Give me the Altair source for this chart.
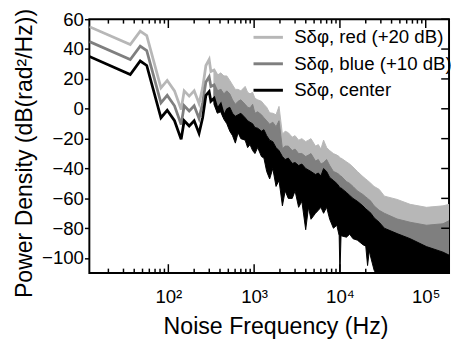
import altair as alt
import pandas as pd

FONT = "Liberation Sans"

SERIES = ["Sδφ, red (+20 dB)", "Sδφ, blue (+10 dB)", "Sδφ, center"]
COLORS = ["#b7b7b7", "#7f7f7f", "#000000"]

# low-frequency (clean) part of the traces
LINE_F = [12, 36, 47, 56, 82, 97, 118, 141, 153, 175, 200, 228, 251, 274, 299, 313, 341, 373, 407, 444]
RED_LINE = [55, 43, 52, 49, 14, 19, 12, -0.5, 12, 8.5, 12, 3.5, 14, 29, 33, 25, 26, 22, 23, 21]
BLUE_LINE = [45, 33, 42, 39, 4, 9, 2, -10.5, 2, -1.5, 2, -6.5, 4, 18, 21.5, 15, 16, 11, 12, 8]
CENTER_LINE = [35, 23, 32, 29, -6, -1, -8, -20.5, -8, -11.5, -8, -16.5, -6, 9, 11.5, 5, 7, -0.5, 2.7, -5]

# noisy part of the traces: upper / lower envelopes
BAND_F = [340, 373, 407, 444, 480, 520, 560, 604, 650, 700, 786, 840, 895, 960, 1022, 1100, 1218, 1300,
          1400, 1517, 1650, 1800, 1950, 2136, 2300, 2500, 2780, 3000, 3300, 3600, 3990, 4300, 4600, 5190,
          5600, 6000, 6450, 7000, 7600, 8400, 9200, 9800, 10000, 10300, 11900, 13000, 14200, 16000, 18500,
          20000, 21000, 22000, 23000, 25000, 28700, 33000, 46400, 65900, 102000, 159000, 187000]
RED_TOP = [26, 22, 24, 22, 22, 19, 16, 13, 13, 12, 15, 11, 10, 11, 7, 6, 5, 3,
           1, -2.7, -3, -4, 1.6, -17, -15, -16, -19, -18, -21, -20, -22, -21, -20, -25,
           -24, -27, -21, -26, -28, -30, -31, -32, -33, -33, -35.5, -37, -39, -42, -45.4,
           -47, -48, -49, -50, -52, -54, -58.5, -60.7, -64, -66, -65, -64]
BLUE_TOP = [16, 12, 13, 10, 12, 10, 6, 3, 5, 6, 3, 1, 0.5, 3, -3, -2, -4, -6,
            -8, -10.4, -9, -12, -8, -26.8, -25, -25, -28, -27, -30, -30, -32, -31, -30, -35,
            -34, -37, -36, -34, -38, -42, -43, -44, -45, -45, -48.7, -50, -52, -55, -57.4,
            -59, -60, -61, -62, -65, -68, -70, -73.8, -76, -78, -77, -75]
CENTER_TOP = [7, 0, 3, -4, 0, 1, -3, -5, -4, -3, -6, -8, -9, -10, -12.6, -13, -15, -14,
              -18, -21, -22, -26, -28, -32, -34, -33, -36.6, -36, -38, -37, -40, -41, -42, -44,
              -43, -45, -40, -42, -46, -48, -50, -52, -53, -53, -56, -58, -60, -62, -65,
              -67, -68, -69, -70, -73, -76, -80, -83.6, -87, -92.3, -96, -98]
CENTER_BOTTOM = [3, -3, -2, -7, -10, -15, -18, -23, -16, -20, -21, -26, -24, -28, -30, -26, -32, -33,
                 -42, -47, -40, -52, -48, -65, -55, -60, -60, -55, -66, -62, -81, -66, -74, -70,
                 -68, -66, -70, -66, -74, -80, -78, -85, -111, -85, -86, -84, -87, -88, -91,
                 -92, -105, -95, -100, -108, -115, -115, -115, -115, -115, -115, -115]

X_DOMAIN = [12, 187000]
Y_DOMAIN = [-110, 60]
X_DECADES = [100, 1000, 10000, 100000]
X_DECADE_LABELS = ["10²", "10³", "10⁴", "10⁵"]
X_MINOR = [20, 30, 40, 50, 60, 70, 80, 90,
           200, 300, 400, 500, 600, 700, 800, 900,
           2000, 3000, 4000, 5000, 6000, 7000, 8000, 9000,
           20000, 30000, 40000, 50000, 60000, 70000, 80000, 90000]
Y_TICKS = [-100, -80, -60, -40, -20, 0, 20, 40, 60]

W, H = 367, 259
MAJOR_LEN, MINOR_LEN, RIGHT_LEN = 9, 4.5, 8

label_expr = ""
for v, lab in zip(X_DECADES, X_DECADE_LABELS):
    label_expr += f"datum.value == {v} ? '{lab}' : "
label_expr += "''"

xscale = alt.Scale(type="log", domain=X_DOMAIN, nice=False)
yscale = alt.Scale(domain=Y_DOMAIN, nice=False, zero=False)

ax_x_main = alt.Axis(orient="bottom", values=X_DECADES, labelExpr=label_expr, ticks=False, tickSize=0,
                     domain=False, grid=False, labelFont=FONT, labelFontSize=19, labelPadding=15,
                     labelColor="black", labelFlush=False,
                     title="Noise Frequency (Hz)", titleFont=FONT, titleFontSize=23.6,
                     titleFontWeight="normal", titleColor="black",
                     titleX=190, titleY=62, titleBaseline="alphabetic")
ax_y_main = alt.Axis(orient="left", values=Y_TICKS, tickSize=5, tickWidth=1.5, tickColor="black",
                     labelPadding=1, labelFont=FONT, labelFontSize=19, labelColor="black",
                     labelFlush=False, domain=False, grid=False,
                     title="Power Density (dB(rad²/Hz))", titleFont=FONT, titleFontSize=23.5,
                     titleFontWeight="normal", titleColor="black",
                     titleX=-59.5, titleY=136.5, titleBaseline="alphabetic")

color_scale = alt.Scale(domain=SERIES, range=COLORS)
legend = alt.Legend(orient="none", legendX=166, legendY=2, title=None, symbolType="stroke",
                    symbolSize=900, symbolStrokeWidth=3, labelFont=FONT, labelFontSize=19,
                    labelColor="black", labelOffset=10, labelLimit=400, rowPadding=-3.5, padding=0)

line_vals = [RED_LINE, BLUE_LINE, CENTER_LINE]
band_tops = [RED_TOP, BLUE_TOP, CENTER_TOP]
band_bottoms = [CENTER_TOP, CENTER_TOP, CENTER_BOTTOM]

layers = []
for i, s in enumerate(SERIES):
    band_df = pd.DataFrame({"f": BAND_F, "top": band_tops[i], "bottom": band_bottoms[i], "series": s})
    line_df = pd.DataFrame({"f": LINE_F, "v": line_vals[i], "series": s})
    band = alt.Chart(band_df).mark_area(clip=True, color=COLORS[i], stroke=COLORS[i],
                                        strokeWidth=1, opacity=1).encode(
        x=alt.X("f:Q", scale=xscale, axis=ax_x_main if i == 0 else None),
        y=alt.Y("top:Q", scale=yscale, axis=ax_y_main if i == 0 else None),
        y2="bottom:Q",
    )
    line = alt.Chart(line_df).mark_line(clip=True, strokeWidth=2.8).encode(
        x=alt.X("f:Q", scale=xscale, axis=None),
        y=alt.Y("v:Q", scale=yscale, axis=None),
        color=alt.Color("series:N", scale=color_scale, legend=legend if i == 0 else None),
    )
    layers += [band, line]

# inward-pointing ticks on the bottom, top and right edges of the frame
major_df = pd.DataFrame({"t": X_DECADES})
minor_df = pd.DataFrame({"t": X_MINOR})
yt_df = pd.DataFrame({"t": Y_TICKS})
tick_style = dict(color="black", strokeWidth=1.5)
for df, ln in [(major_df, MAJOR_LEN), (minor_df, MINOR_LEN)]:
    layers.append(alt.Chart(df).mark_rule(**tick_style).encode(
        x=alt.X("t:Q", scale=xscale, axis=None), y=alt.value(H), y2=alt.value(H - ln)))
    layers.append(alt.Chart(df).mark_rule(**tick_style).encode(
        x=alt.X("t:Q", scale=xscale, axis=None), y=alt.value(0), y2=alt.value(ln)))
layers.append(alt.Chart(yt_df).mark_rule(**tick_style).encode(
    y=alt.Y("t:Q", scale=yscale, axis=None), x=alt.value(W), x2=alt.value(W - RIGHT_LEN)))

chart = alt.layer(*layers).resolve_axis(x="independent", y="independent").properties(
    width=W, height=H,
    autosize=alt.AutoSizeParams(type="none"),
    padding={"left": 83, "top": 8, "right": 2, "bottom": 70},
).configure(font=FONT).configure_view(stroke="black", strokeWidth=2)

chart.save("out.html", embed_options={"renderer": "svg", "actions": False})
